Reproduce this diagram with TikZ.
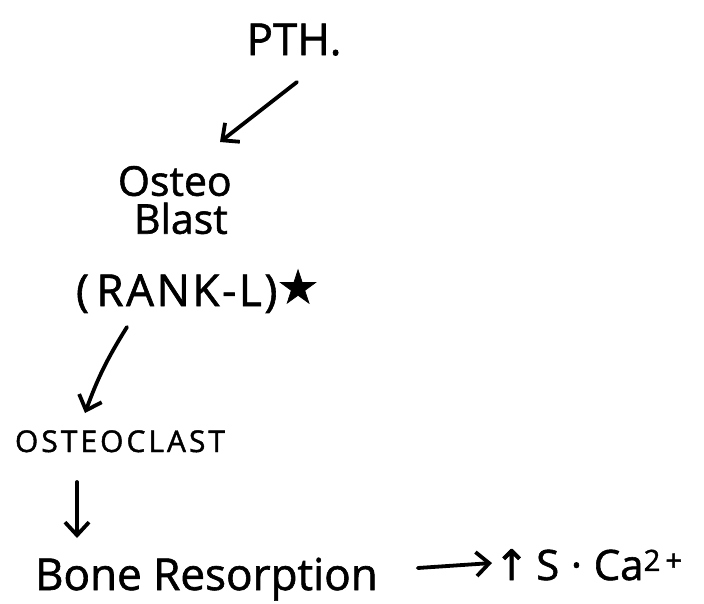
\documentclass[tikz,border=0pt]{standalone}
\usepackage{fontspec}
\setmainfont{Open Sans}[FakeBold=1.4]
\newfontfamily\symfont{DejaVu Sans}[FakeBold=1.4]
\usetikzlibrary{arrows.meta}
\tikzset{
  lbl/.style={inner sep=0pt, outer sep=0pt, text=black},
  arr/.style={line width=3.8pt, line cap=round, -{Straight Barb[length=13pt,width=24pt,line width=3.8pt]}}
}
\begin{document}
\begin{tikzpicture}[x=1pt,y=-1pt]
\useasboundingbox (0,0) rectangle (704,603);
\fill[white] (0,0) rectangle (704,603);
\node[lbl, anchor=base, font=\fontsize{44}{46}\selectfont] (pth) at (294,55) {PTH.};
\node[lbl, anchor=north west, align=left, font=\fontsize{41}{38}\selectfont] (ob) at (118,166) {Osteo\\\hspace{16pt}Blast};
\node[lbl, anchor=base west, font=\fontsize{44}{46}\selectfont\addfontfeature{LetterSpace=6}] (rank) at (76,306) {(\,RANK-L)\raisebox{3pt}{\symfont\fontsize{46}{46}\selectfont ★}};
\node[lbl, anchor=base west, font=\fontsize{30}{32}\selectfont\addfontfeature{LetterSpace=10}] (oc) at (15,452) {OSTEOCLAST};
\node[lbl, anchor=base west, font=\fontsize{44}{46}\selectfont] (br) at (35,590) {Bone Resorption};
\node[lbl, anchor=base west, font=\fontsize{42}{44}\selectfont] (ca) at (494,580) {{\symfont ↑}\,S\;·\;Ca\textsuperscript{2\,+}};
\draw[arr] ([shift={(3,27)}]pth.base) -- ([shift={(102,-24)}]ob.north west);
\draw[arr] ([shift={(51,21)}]rank.base west) to[bend right=6] ([shift={(70,-39)}]oc.base west);
\draw[arr] ([shift={(62,30)}]oc.base west) -- ([shift={(42,-52)}]br.base west);
\draw[arr] ([shift={(40,-22)}]br.base east) -- ([shift={(-2,-17)}]ca.base west);
\end{tikzpicture}
\end{document}
